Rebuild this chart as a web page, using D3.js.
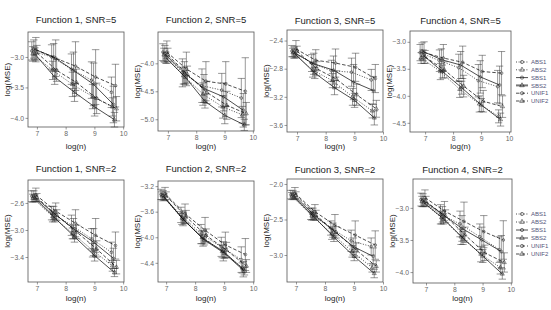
<!DOCTYPE html>
<html><head><meta charset="utf-8">
<script src="https://cdn.jsdelivr.net/npm/d3@7"></script>
<style>body{margin:0;background:#fff} text{font-family:"Liberation Sans",Arial,sans-serif}</style>
</head><body><svg id="c" width="551" height="310"></svg>
<script>
const xVals = [6.91, 7.60, 8.29, 8.99, 9.68];
const seriesNames = ["ABS1","ABS2","SBS1","SBS2","UNIF1","UNIF2"];
const panelTitles = ["Function 1, SNR=5","Function 2, SNR=5","Function 3, SNR=5","Function 4, SNR=5",
                     "Function 1, SNR=2","Function 2, SNR=2","Function 3, SNR=2","Function 4, SNR=2"];
const xTicks = [7, 8, 9, 10];
const yTicks1 = [-3.0, -3.5, -4.0];
const yTicks2 = [-4.0, -4.5, -5.0];
const yTicks3 = [-2.4, -2.8, -3.2, -3.6];
const yTicks4 = [-3.0, -3.5, -4.0, -4.5];
const yTicks5 = [-2.6, -3.0, -3.4];
const yTicks6 = [-3.2, -3.6, -4.0, -4.4];
const yTicks7 = [-2.0, -2.5, -3.0];
const yTicks8 = [-3.0, -3.5, -4.0];

// mean log(MSE), rows = ABS1, ABS2, SBS1, SBS2, UNIF1, UNIF2
const mean1 = [[-2.90,-3.00,-3.20,-3.38,-3.58],[-2.95,-3.22,-3.45,-3.65,-3.82],[-2.87,-3.00,-3.22,-3.45,-3.78],
               [-2.95,-3.33,-3.58,-3.82,-4.03],[-2.88,-3.02,-3.15,-3.33,-3.47],[-2.93,-3.22,-3.42,-3.68,-3.85]];
const mean2 = [[-3.80,-4.17,-4.40,-4.48,-4.62],[-3.85,-4.22,-4.55,-4.78,-4.92],[-3.83,-4.17,-4.45,-4.60,-4.84],
               [-3.90,-4.25,-4.68,-4.93,-5.10],[-3.80,-4.10,-4.32,-4.37,-4.50],[-3.85,-4.20,-4.52,-4.75,-4.90]];
const mean3 = [[-2.55,-2.72,-2.83,-2.85,-2.96],[-2.57,-2.82,-2.97,-3.20,-3.40],[-2.57,-2.73,-2.82,-2.99,-3.11],
               [-2.59,-2.86,-3.07,-3.25,-3.50],[-2.52,-2.68,-2.72,-2.78,-2.94],[-2.55,-2.80,-2.95,-3.17,-3.37]];
const mean4 = [[-3.20,-3.35,-3.48,-3.72,-3.83],[-3.30,-3.55,-3.88,-4.15,-4.38],[-3.17,-3.33,-3.43,-3.65,-3.80],
               [-3.25,-3.55,-3.85,-4.17,-4.44],[-3.20,-3.30,-3.38,-3.55,-3.58],[-3.28,-3.52,-3.82,-4.10,-4.20]];
const mean5 = [[-2.50,-2.75,-2.93,-3.13,-3.33],[-2.53,-2.80,-3.05,-3.30,-3.53],[-2.50,-2.75,-2.98,-3.18,-3.42],
               [-2.53,-2.82,-3.10,-3.38,-3.63],[-2.48,-2.72,-2.90,-3.08,-3.23],[-2.52,-2.78,-3.03,-3.28,-3.55]];
const mean6 = [[-3.33,-3.65,-3.95,-4.15,-4.35],[-3.35,-3.70,-4.00,-4.22,-4.48],[-3.35,-3.72,-4.02,-4.22,-4.50],
               [-3.37,-3.73,-4.04,-4.25,-4.53],[-3.32,-3.63,-3.89,-4.12,-4.27],[-3.35,-3.68,-3.97,-4.20,-4.45]];
const mean7 = [[-2.15,-2.42,-2.62,-2.80,-2.88],[-2.17,-2.45,-2.70,-2.95,-3.18],[-2.15,-2.42,-2.65,-2.88,-3.02],
               [-2.18,-2.46,-2.75,-3.02,-3.26],[-2.13,-2.39,-2.58,-2.72,-2.86],[-2.16,-2.44,-2.68,-2.93,-3.16]];
const mean8 = [[-2.87,-3.10,-3.25,-3.45,-3.65],[-2.90,-3.15,-3.45,-3.72,-3.93],[-2.88,-3.10,-3.32,-3.50,-3.68],
               [-2.92,-3.17,-3.47,-3.75,-4.03],[-2.84,-3.05,-3.21,-3.37,-3.50],[-2.90,-3.13,-3.42,-3.70,-3.85]];

// error-bar half widths
const err1 = [[0.15,0.2,0.25,0.3,0.25],[0.12,0.15,0.2,0.2,0.15],[0.15,0.22,0.3,0.35,0.3],
              [0.1,0.12,0.15,0.15,0.12],[0.2,0.3,0.4,0.45,0.35],[0.12,0.18,0.22,0.25,0.2]];
const err2 = [[0.15,0.25,0.3,0.3,0.35],[0.12,0.15,0.2,0.2,0.15],[0.15,0.2,0.25,0.25,0.3],
              [0.1,0.12,0.12,0.15,0.1],[0.2,0.3,0.35,0.4,0.6],[0.12,0.15,0.2,0.25,0.2]];
const err3 = [[0.08,0.12,0.15,0.2,0.15],[0.06,0.1,0.1,0.12,0.1],[0.08,0.15,0.2,0.25,0.2],
              [0.06,0.08,0.1,0.1,0.1],[0.12,0.15,0.2,0.2,0.2],[0.07,0.1,0.12,0.15,0.12]];
const err4 = [[0.15,0.2,0.25,0.3,0.3],[0.1,0.15,0.15,0.15,0.12],[0.15,0.2,0.25,0.3,0.35],
              [0.1,0.12,0.12,0.12,0.12],[0.2,0.25,0.3,0.3,0.4],[0.12,0.15,0.2,0.2,0.2]];
const err5 = [[0.08,0.1,0.15,0.15,0.15],[0.06,0.08,0.08,0.1,0.08],[0.08,0.1,0.15,0.2,0.15],
              [0.05,0.06,0.08,0.08,0.06],[0.1,0.12,0.2,0.25,0.2],[0.06,0.08,0.1,0.12,0.1]];
const err6 = [[0.08,0.12,0.15,0.15,0.2],[0.06,0.1,0.1,0.1,0.08],[0.08,0.1,0.12,0.15,0.12],
              [0.05,0.06,0.08,0.08,0.06],[0.1,0.15,0.2,0.2,0.25],[0.06,0.1,0.1,0.12,0.1]];
const err7 = [[0.06,0.08,0.1,0.15,0.12],[0.05,0.06,0.08,0.08,0.06],[0.06,0.08,0.1,0.12,0.12],
              [0.04,0.05,0.06,0.06,0.06],[0.08,0.1,0.15,0.2,0.2],[0.05,0.07,0.08,0.1,0.08]];
const err8 = [[0.1,0.15,0.2,0.2,0.2],[0.08,0.1,0.12,0.12,0.1],[0.1,0.12,0.2,0.2,0.25],
              [0.06,0.08,0.1,0.1,0.08],[0.12,0.15,0.3,0.25,0.3],[0.08,0.1,0.12,0.12,0.15]];

const means = [mean1,mean2,mean3,mean4,mean5,mean6,mean7,mean8];
const errs = [err1,err2,err3,err4,err5,err6,err7,err8];
const yTicks = [yTicks1,yTicks2,yTicks3,yTicks4,yTicks5,yTicks6,yTicks7,yTicks8];

// layout (plot rectangles and visible domains)
const layout = [
  {l:28, r:124, t:32, b:127, xd:[6.69,10.03], yd:[-2.59,-4.15], tb:22.5},
  {l:158,r:254, t:32, b:131, xd:[6.65,10.04], yd:[-3.44,-5.21], tb:22.5},
  {l:287,r:383, t:30, b:132, xd:[6.65,10.0],  yd:[-2.25,-3.70], tb:24},
  {l:410,r:511, t:31, b:132, xd:[6.46,10.07], yd:[-2.80,-4.67], tb:24},
  {l:28, r:124, t:180,b:282, xd:[6.69,10.03], yd:[-2.26,-3.77], tb:172},
  {l:158,r:254, t:181,b:282, xd:[6.72,10.03], yd:[-3.12,-4.70], tb:172},
  {l:287,r:383, t:179,b:282, xd:[6.69,10.0],  yd:[-1.93,-3.38], tb:173},
  {l:413,r:512, t:179,b:283, xd:[6.54,10.04], yd:[-2.55,-4.17], tb:173}
];
const dashes = {ABS1:"1,1.6", ABS2:"1,1.6", SBS1:null, SBS2:null, UNIF1:"3.5,2", UNIF2:"3.5,2"};
const shapes = {ABS1:d3.symbolCircle, ABS2:d3.symbolTriangle, SBS1:d3.symbolCircle, SBS2:d3.symbolTriangle, UNIF1:d3.symbolCircle, UNIF2:d3.symbolTriangle};
const symSize = {circle:6, tri:7};

const svg = d3.select("#c");

layout.forEach((L, p) => {
  const row = p < 4 ? 0 : 1;
  const x = d3.scaleLinear().domain(L.xd).range([L.l, L.r]);
  const y = d3.scaleLinear().domain(L.yd).range([L.t, L.b]);
  const g = svg.append("g");

  // axes
  const xa = g.append("g").attr("transform", `translate(0,${L.b})`)
    .call(d3.axisBottom(x).tickValues(xTicks).tickSize(2.5).tickPadding(1.5).tickFormat(d3.format("d")));
  const ya = g.append("g").attr("transform", `translate(${L.l},0)`)
    .call(d3.axisLeft(y).tickValues(yTicks[p]).tickSize(2.5).tickPadding(1.5).tickFormat(d3.format(".1f")));
  [xa, ya].forEach(a => {
    a.select(".domain").remove();
    a.selectAll(".tick line").attr("stroke", "#555").attr("stroke-width", 0.6);
    a.selectAll(".tick text").attr("fill", "#666").attr("font-size", 6.8);
  });
  g.append("rect").attr("x", L.l).attr("y", L.t).attr("width", L.r - L.l).attr("height", L.b - L.t)
    .attr("fill", "none").attr("stroke", "#555").attr("stroke-width", 0.8);

  // titles
  g.append("text").attr("x", (L.l + L.r) / 2).attr("y", L.tb).attr("text-anchor", "middle")
    .attr("font-size", 9.5).attr("fill", "#222").text(panelTitles[p]);
  g.append("text").attr("x", (L.l + L.r) / 2).attr("y", row ? 301 : 149).attr("text-anchor", "middle")
    .attr("font-size", 8).attr("fill", "#222").text("log(n)");
  g.append("text").attr("transform", `translate(${L.l - 18},${(L.t + L.b) / 2}) rotate(-90)`)
    .attr("text-anchor", "middle").attr("font-size", 8).attr("fill", "#222").text("log(MSE)");

  seriesNames.forEach((s, i) => {
    const dodge = (i - 2.5) * 0.035;
    const pts = xVals.map((xv, k) => ({x: xv + dodge, m: means[p][i][k], e: errs[p][i][k]}));
    // error bars
    const eb = g.append("g").attr("stroke", "#333").attr("stroke-width", 0.5).attr("fill", "none");
    pts.forEach(d => {
      eb.append("line").attr("x1", x(d.x)).attr("x2", x(d.x)).attr("y1", y(d.m - d.e)).attr("y2", y(d.m + d.e));
      eb.append("line").attr("x1", x(d.x - 0.13)).attr("x2", x(d.x + 0.13)).attr("y1", y(d.m - d.e)).attr("y2", y(d.m - d.e));
      eb.append("line").attr("x1", x(d.x - 0.13)).attr("x2", x(d.x + 0.13)).attr("y1", y(d.m + d.e)).attr("y2", y(d.m + d.e));
    });
    // line
    g.append("path").datum(pts)
      .attr("d", d3.line().x(d => x(d.x)).y(d => y(d.m)))
      .attr("fill", "none").attr("stroke", "#000").attr("stroke-width", 0.7)
      .attr("stroke-dasharray", dashes[s]);
    // points
    const sym = d3.symbol().type(shapes[s]).size(shapes[s] === d3.symbolCircle ? symSize.circle : symSize.tri);
    g.selectAll(null).data(pts).enter().append("path")
      .attr("transform", d => `translate(${x(d.x)},${y(d.m)})`)
      .attr("d", sym).attr("fill", "none").attr("stroke", "#222").attr("stroke-width", 0.5);
  });
});

// legends
[{y0: 62, step: 7.8, top: true}, {y0: 214, step: 8, top: false}].forEach(Lg => {
  const lg = svg.append("g");
  seriesNames.forEach((s, i) => {
    const yy = Lg.y0 + i * Lg.step;
    const thick = Lg.top && s === "SBS2";
    lg.append("line").attr("x1", 516).attr("x2", 528).attr("y1", yy).attr("y2", yy)
      .attr("stroke", thick ? "#777" : "#000").attr("stroke-width", thick ? 2 : 0.7)
      .attr("stroke-dasharray", dashes[s]);
    lg.append("path").attr("transform", `translate(522,${yy})`)
      .attr("d", d3.symbol().type(shapes[s]).size(shapes[s] === d3.symbolCircle ? 8 : 9))
      .attr("fill", "none").attr("stroke", "#000").attr("stroke-width", 0.5);
    lg.append("text").attr("x", 531).attr("y", yy + 2.2).attr("font-size", 6)
      .attr("fill", "#55557a").text(s);
  });
});
</script></body></html>
